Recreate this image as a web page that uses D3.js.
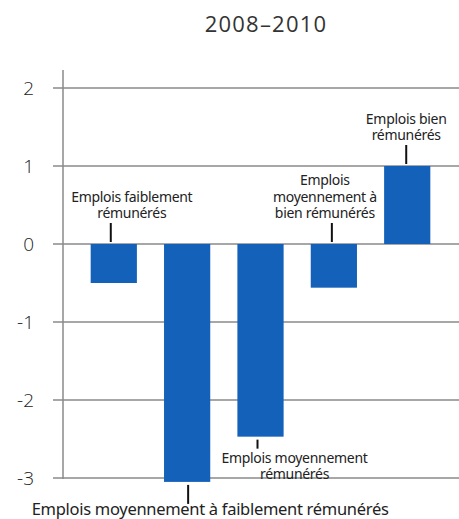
<!DOCTYPE html>
<html>
<head>
<meta charset="utf-8">
<script src="https://cdn.jsdelivr.net/npm/d3@7"></script>
<style>
  body { margin: 0; background: #fff; }
  .tick-label { font-family: "Open Sans", sans-serif; font-weight: 300; font-size: 19px; fill: #222; }
  .title { font-family: "Open Sans", sans-serif; font-size: 22px; fill: #333; letter-spacing: 1.2px; }
  .bar-label { font-family: "Noto Sans", sans-serif; font-size: 14px; fill: #222; letter-spacing: -0.3px; }
  .bar-label.big { font-size: 16.5px; }
</style>
</head>
<body>
<script>
// chart data
var categories = ["low", "midLow", "mid", "midHigh", "high"];
var values = [-0.5, -3.05, -2.47, -0.56, 1.0];
var labels = [
  ["Emplois faiblement", "rémunérés"],
  ["Emplois moyennement à faiblement rémunérés"],
  ["Emplois moyennement", "rémunérés"],
  ["Emplois", "moyennement à", "bien rémunérés"],
  ["Emplois bien", "rémunérés"]
];
var yTicks = [2, 1, 0, -1, -2, -3];

window.onload = function(){
    var w = 459, h = 519;

    var svg = d3.select("body").append("svg")
        .attr("width", w)
        .attr("height", h);

    var x = d3.scaleBand()
        .domain(categories)
        .range([76, 445])
        .paddingInner(0.37)
        .paddingOuter(0.2);

    var y = d3.scaleLinear()
        .domain([-3, 2])
        .range([478, 88]);

    // title
    svg.append("text")
        .attr("class", "title")
        .attr("x", 266)
        .attr("y", 32)
        .attr("text-anchor", "middle")
        .text("2008\u20132010");

    // gridlines
    svg.selectAll(".grid")
        .data(yTicks)
        .enter()
        .append("line")
        .attr("class", "grid")
        .attr("x1", 53)
        .attr("x2", w)
        .attr("y1", function(d){ return y(d); })
        .attr("y2", function(d){ return y(d); })
        .style("stroke", "#8a8a8a")
        .style("stroke-width", 1.5);

    // vertical axis line
    svg.append("line")
        .attr("x1", 63).attr("x2", 63)
        .attr("y1", 70).attr("y2", y(-3) + 1)
        .style("stroke", "#8a8a8a")
        .style("stroke-width", 1.5);

    // tick labels
    svg.selectAll(".tick-label")
        .data(yTicks)
        .enter()
        .append("text")
        .attr("class", "tick-label")
        .attr("x", 34)
        .attr("y", function(d){ return y(d) + 7; })
        .attr("text-anchor", "end")
        .text(function(d){ return d < 0 ? "-" + Math.abs(d) : d; });

    // bars
    svg.selectAll(".bar")
        .data(values)
        .enter()
        .append("rect")
        .attr("class", "bar")
        .attr("x", function(d, i){ return x(categories[i]); })
        .attr("width", x.bandwidth())
        .attr("y", function(d){ return y(Math.max(0, d)); })
        .attr("height", function(d){ return Math.abs(y(d) - y(0)); })
        .style("fill", "#1461b9");

    // label placement: leader x offset, text centre offset, above or below the bar
    var pos = [
        {lx: -3, tx: 18, above: true},
        {lx: 1, tx: 23, above: false},
        {lx: -3, tx: 34, above: false},
        {lx: -2, tx: -9, above: true},
        {lx: -1, tx: -1, above: true}
    ];
    var lineH = 16.5;

    values.forEach(function(v, i){
        var cx = x(categories[i]) + x.bandwidth() / 2;
        var p = pos[i];
        var lx = cx + p.lx;
        var end = v >= 0 ? y(v) : y(0);
        var y1, y2, base;
        if (p.above) {
            y2 = end - 2;
            y1 = y2 - 19;
            base = y1 - 5 - (labels[i].length - 1) * lineH;
        } else {
            y1 = y(v) + 3;
            y2 = y1 + (i === 1 ? 19 : 9);
            base = y2 + (i === 1 ? 11 : 14);
        }
        svg.append("line")
            .attr("x1", lx).attr("x2", lx)
            .attr("y1", y1).attr("y2", y2)
            .style("stroke", "#111")
            .style("stroke-width", 2);

        var t = svg.append("text")
            .attr("class", i === 1 ? "bar-label big" : "bar-label")
            .attr("text-anchor", "middle")
            .attr("x", cx + p.tx)
            .attr("y", base);
        labels[i].forEach(function(s, j){
            t.append("tspan")
                .attr("x", cx + p.tx)
                .attr("dy", j === 0 ? 0 : lineH)
                .text(s);
        });
    });
};
</script>
</body>
</html>
